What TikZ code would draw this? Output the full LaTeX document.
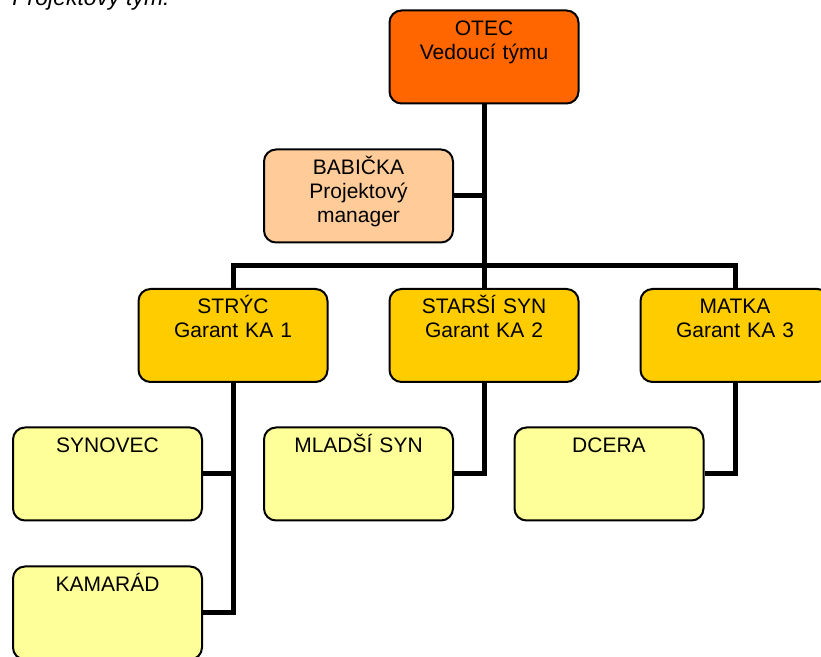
\documentclass[tikz,border=0pt]{standalone}
\usepackage{fontspec}
\setmainfont{Liberation Sans}
\usetikzlibrary{backgrounds}

\definecolor{headorange}{HTML}{FF6600}
\definecolor{mgrpeach}{HTML}{FFCC99}
\definecolor{garantgold}{HTML}{FFCC00}
\definecolor{memberyellow}{HTML}{FFFF99}

\tikzset{
  box/.style={draw, line width=1pt, rounded corners=6pt, inner sep=0pt,
    text width=94.5pt, align=center, text height=12.5pt, text depth=34pt,
    font=\fontsize{10.5}{12}\selectfont},
  head/.style={box, fill=headorange},
  mgr/.style={box, fill=mgrpeach},
  garant/.style={box, fill=garantgold},
  member/.style={box, fill=memberyellow},
  link/.style={line width=2.5pt}
}

\begin{document}
\begin{tikzpicture}[x=0.5pt, y=-0.5pt]
  \useasboundingbox (0,0) rectangle (821,657);

  % Caption
  \node[anchor=base west, inner sep=0pt, font=\fontsize{11.5}{13}\selectfont\itshape] (title) at (12,6) {Projektový tým:};

  % Define coordinates for boxes
  \node[head] (otec) at (484,57) {OTEC\\Vedoucí týmu};
  \node[mgr] (babicka) at (358.5,196) {BABIČKA\\Projektový\\manager};
  \node[garant] (stryc) at (233,335.5) {STRÝC\\Garant KA 1};
  \node[garant] (starsi) at (484,335.5) {STARŠÍ SYN\\Garant KA 2};
  \node[garant] (matka) at (735,335.5) {MATKA\\Garant KA 3};
  \node[member] (synovec) at (107.5,474) {SYNOVEC};
  \node[member] (mladsi) at (358.5,474) {MLADŠÍ SYN};
  \node[member] (dcera) at (609,474) {DCERA};
  \node[member] (kamarad) at (107.5,613) {KAMARÁD};
  \coordinate (hub) at (484,266);

  % Draw lines between boxes
  \begin{scope}[on background layer]
    \draw[link] (otec.south) -- (hub);
    \draw[link] (babicka.east) -- (babicka.east -| hub);
    \draw[link] (stryc.north) |- (hub) -| (matka.north);
    \draw[link] (hub) -- (starsi.north);
    \draw[link] (stryc.south) |- (kamarad.east);
    \draw[link] (synovec.east) -- (synovec.east -| stryc.south);
    \draw[link] (starsi.south) |- (mladsi.east);
    \draw[link] (matka.south) |- (dcera.east);
  \end{scope}
\end{tikzpicture}
\end{document}
